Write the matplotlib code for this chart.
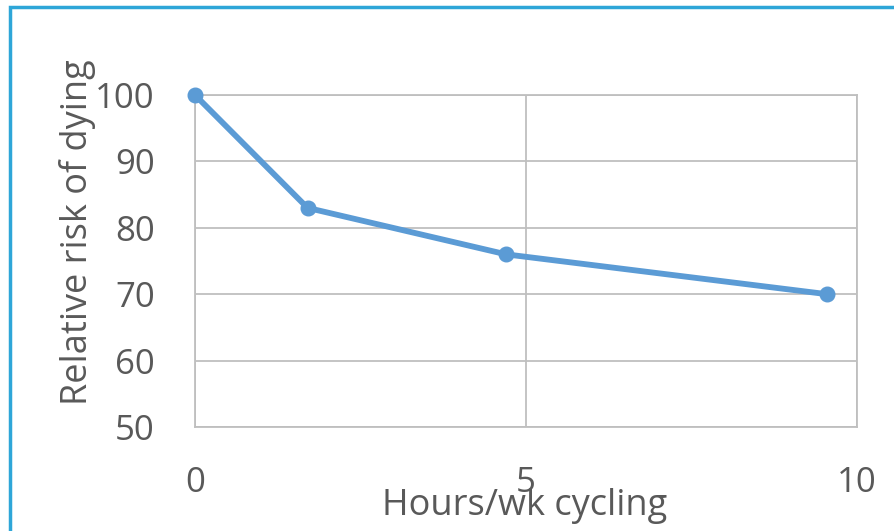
import matplotlib.pyplot as plt
from matplotlib.patches import Rectangle

hours = [0, 1.7, 4.7, 9.55]
risk = [100, 83, 76, 70]
x_ticks = [0, 5, 10]
y_ticks = [50, 60, 70, 80, 90, 100]

plt.rcParams['font.family'] = ['Open Sans', 'DejaVu Sans']

W, H = 895, 531
fig = plt.figure(figsize=(W / 100, H / 100), dpi=100)
ax = fig.add_axes([195 / W, 1 - 427 / H, (857 - 195) / W, (427 - 95) / H])

grid_c = '#BFBFBF'
ax.plot(hours, risk, color='#5B9BD5', lw=4.2, marker='o', ms=10.5,
        solid_capstyle='round', clip_on=False, zorder=3)

ax.set_xlim(0, 10)
ax.set_ylim(50, 100)
ax.set_xticks(x_ticks)
ax.set_yticks(y_ticks)
ax.grid(True, color=grid_c, lw=1.3)
ax.set_axisbelow(True)
for s in ax.spines.values():
    s.set_color(grid_c)
    s.set_linewidth(1.3)
ax.tick_params(length=0, labelsize=25, labelcolor='#595959')
ax.tick_params(axis='y', pad=29)
ax.tick_params(axis='x', pad=28)

fig.text(78 / W, 1 - 232 / H, 'Relative risk of dying', rotation=90,
         ha='center', va='center', fontsize=26, color='#595959')
fig.text(525 / W, 1 - 506 / H, 'Hours/wk cycling', ha='center', va='center',
         fontsize=26, color='#595959')

# frame around the chart
fig.patches.append(Rectangle((10 / W, -0.1), 1.2, 1.1 - 7 / H,
                             transform=fig.transFigure, fill=False,
                             edgecolor='#2EA6D8', lw=2.5))

fig.savefig('out.png', dpi=100)
